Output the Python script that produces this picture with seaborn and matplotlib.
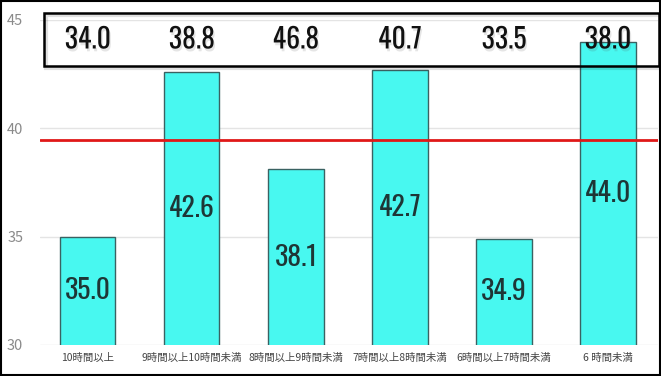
import matplotlib
matplotlib.use("Agg")
import matplotlib.pyplot as plt
import matplotlib.patheffects as pe
from matplotlib.patches import Rectangle
import seaborn as sns
import pandas as pd

# Sleep-duration groups and their values
categories = ["10時間以上", "9時間以上10時間未満", "8時間以上9時間未満",
              "7時間以上8時間未満", "6時間以上7時間未満", "6 時間未満"]
values = [35.0, 42.6, 38.1, 42.7, 34.9, 44.0]
# Figures listed in the header row above each group
header_values = [34.0, 38.8, 46.8, 40.7, 33.5, 38.0]
# Reference level
average = 39.45
y_ticks = [30, 35, 40, 45]

sns.set_theme(style="white")
plt.rcParams["font.family"] = ["Noto Sans CJK JP", "DejaVu Sans"]
num_font = ["Oswald", "Roboto Condensed", "DejaVu Sans"]

df = pd.DataFrame({"group": categories, "value": values})

fig = plt.figure(figsize=(6.61, 3.76), dpi=100)
ax = fig.add_axes([40 / 661, 1 - 345 / 376, 618 / 661, 325 / 376])

sns.barplot(data=df, x="group", y="value", color="#48F8F0", saturation=1,
            width=0.53, edgecolor="#3a6262", linewidth=1.0, ax=ax, zorder=2)

ax.set_ylim(30, 45)
ax.set_xlim(-0.46, 5.48)
ax.set_yticks(y_ticks)
ax.yaxis.grid(True, color="#e4e4e4", linewidth=1.0, zorder=0)
ax.set_axisbelow(True)
for s in ax.spines.values():
    s.set_visible(False)
ax.set_xlabel("")
ax.set_ylabel("")
ax.tick_params(axis="y", length=0, labelsize=10.5, labelcolor="#8a8a8a", pad=12)
ax.tick_params(axis="x", length=0, labelsize=7.5, labelcolor="#444444", pad=6)

# Average line
ax.axhline(average, color="#e01818", linewidth=2, zorder=3)

# Value labels centred in the visible part of each bar
for i, v in enumerate(values):
    ax.text(i, (30 + v) / 2, f"{v:.1f}", ha="center", va="center",
            fontsize=20, color="#1e3636", family=num_font, weight="light",
            zorder=4)

# Header box with values (soft shadow under the frame)
fig.add_artist(Rectangle((45.5 / 661, 1 - 68 / 376), 616 / 661, 53 / 376,
                         transform=fig.transFigure, fill=False,
                         edgecolor="#000000", alpha=0.12, linewidth=3, zorder=5))
fig.add_artist(Rectangle((44 / 661, 1 - 66 / 376), 615 / 661, 53 / 376,
                         transform=fig.transFigure, fill=False,
                         edgecolor="black", linewidth=1.8, zorder=5))
for i, v in enumerate(header_values):
    ax.text(i, 1 - (40 - 20) / 325, f"{v:.1f}",
            transform=ax.get_xaxis_transform(), ha="center", va="center",
            fontsize=20, color="#111111", family=num_font, weight="light",
            zorder=6, clip_on=False,
            path_effects=[pe.withSimplePatchShadow(offset=(1, -2), alpha=0.15,
                                                   shadow_rgbFace="#555555")])

# Outer frame
fig.add_artist(Rectangle((0.001, 0.002), 0.997, 0.995, transform=fig.transFigure,
                         fill=False, edgecolor="black", linewidth=1.5))

fig.savefig("out.png", dpi=100)
